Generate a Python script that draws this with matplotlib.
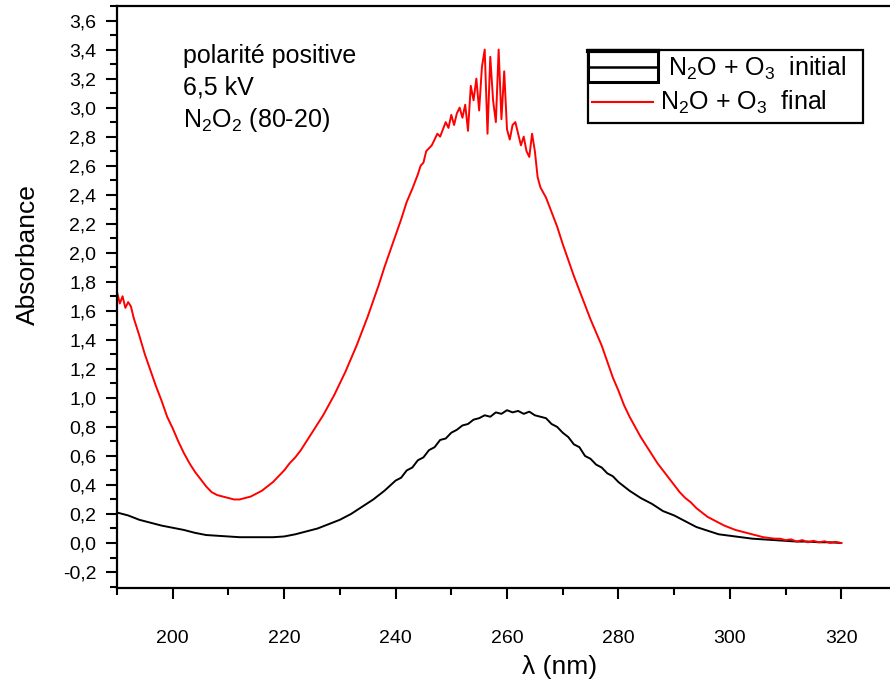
import matplotlib
matplotlib.use("Agg")
import matplotlib.pyplot as plt
from matplotlib.ticker import MultipleLocator, FuncFormatter
from matplotlib.patches import Rectangle
from matplotlib.lines import Line2D

plt.rcParams['font.family'] = ['Liberation Sans', 'DejaVu Sans']
plt.rcParams['mathtext.fontset'] = 'custom'
plt.rcParams['mathtext.rm'] = 'Liberation Sans'
plt.rcParams['mathtext.it'] = 'Liberation Sans'
plt.rcParams['mathtext.default'] = 'regular'

# ---------------- data ----------------
wl_final = [190, 190.5, 191, 191.5, 192, 192.5, 193, 194, 195, 196, 197, 198, 199,
            200, 201, 202, 203, 204, 205, 206, 207, 208, 209, 210, 211, 212, 213, 214,
            215, 216, 217, 218, 219, 220, 221, 222, 223, 224, 225, 226, 227, 228, 229,
            230, 231, 232, 233, 234, 235, 236, 237, 238, 239, 240, 241, 242, 243, 244,
            244.5, 245, 245.5, 246, 246.5, 247, 247.5, 248, 248.5, 249, 249.5, 250,
            250.5, 251, 251.5, 252, 252.5, 253, 253.5, 254, 254.5, 255, 255.5, 256,
            256.5, 257, 257.5, 258, 258.5, 259, 259.5, 260, 260.5, 261, 261.5, 262,
            262.5, 263, 263.5, 264, 264.5, 265, 265.5, 266, 267, 268, 269, 270, 271,
            272, 273, 274, 275, 276, 277, 278, 279, 280, 281, 282, 283, 284, 285, 286,
            287, 288, 289, 290, 291, 292, 293, 294, 295, 296, 297, 298, 299, 300, 301,
            302, 303, 304, 305, 306, 307, 308, 309, 310, 311, 312, 313, 314, 315, 316,
            317, 318, 319, 320]
abs_final = [1.73, 1.65, 1.70, 1.62, 1.66, 1.63, 1.55, 1.43, 1.30, 1.19, 1.08, 0.98, 0.87,
             0.79, 0.70, 0.62, 0.55, 0.49, 0.44, 0.39, 0.35, 0.33, 0.32, 0.31, 0.30, 0.30,
             0.31, 0.32, 0.34, 0.36, 0.39, 0.42, 0.46, 0.50, 0.55, 0.59, 0.64, 0.70, 0.76,
             0.82, 0.88, 0.95, 1.02, 1.10, 1.18, 1.27, 1.36, 1.46, 1.56, 1.67, 1.78, 1.90,
             2.01, 2.12, 2.23, 2.35, 2.44, 2.54, 2.60, 2.62, 2.70, 2.72, 2.74, 2.78, 2.82,
             2.80, 2.85, 2.90, 2.86, 2.95, 2.88, 2.96, 3.00, 2.93, 3.02, 2.84, 3.15, 3.05,
             3.20, 2.98, 3.28, 3.40, 2.82, 3.35, 3.05, 2.90, 3.40, 2.92, 3.25, 2.85, 2.78,
             2.88, 2.90, 2.82, 2.74, 2.80, 2.70, 2.66, 2.82, 2.70, 2.52, 2.45, 2.38, 2.28,
             2.18, 2.06, 1.95, 1.84, 1.74, 1.64, 1.54, 1.45, 1.36, 1.25, 1.14, 1.05, 0.95,
             0.87, 0.80, 0.73, 0.67, 0.61, 0.55, 0.50, 0.45, 0.40, 0.35, 0.31, 0.28, 0.24,
             0.21, 0.18, 0.16, 0.14, 0.12, 0.105, 0.09, 0.08, 0.07, 0.06, 0.05, 0.04, 0.035,
             0.03, 0.03, 0.02, 0.025, 0.01, 0.02, 0.005, 0.015, 0.005, 0.012, 0.0, 0.008,
             0.0]

wl_initial = [190, 192, 194, 196, 198, 200, 202, 204, 206, 208, 210, 212, 214, 216, 218,
              220, 222, 224, 226, 228, 230, 232, 234, 236, 238, 240, 241, 242, 243, 244,
              245, 246, 247, 248, 249, 250, 251, 252, 253, 254, 255, 256, 257, 258, 259,
              260, 261, 262, 263, 264, 265, 266, 267, 268, 269, 270, 271, 272, 273, 274,
              275, 276, 277, 278, 279, 280, 282, 284, 286, 288, 290, 292, 294, 296, 298,
              300, 302, 304, 306, 308, 310, 312, 314, 316, 318, 320]
abs_initial = [0.21, 0.19, 0.16, 0.14, 0.12, 0.105, 0.09, 0.07, 0.055, 0.05, 0.045, 0.04,
               0.04, 0.04, 0.04, 0.045, 0.06, 0.08, 0.10, 0.13, 0.16, 0.20, 0.25, 0.30,
               0.36, 0.43, 0.45, 0.50, 0.52, 0.57, 0.59, 0.64, 0.66, 0.71, 0.72, 0.76,
               0.78, 0.81, 0.82, 0.85, 0.86, 0.88, 0.87, 0.90, 0.89, 0.915, 0.90, 0.91,
               0.89, 0.905, 0.88, 0.87, 0.86, 0.82, 0.80, 0.76, 0.73, 0.68, 0.66, 0.60,
               0.58, 0.54, 0.52, 0.48, 0.46, 0.42, 0.36, 0.31, 0.27, 0.22, 0.19, 0.15,
               0.11, 0.085, 0.06, 0.05, 0.04, 0.03, 0.025, 0.02, 0.015, 0.01, 0.01, 0.005,
               0.005, 0.0]

x_ticks = [200, 220, 240, 260, 280, 300, 320]
annotation_lines = ["polarité positive", "6,5 kV", "N$_2$O$_2$ (80-20)"]
legend_labels = ["N$_2$O + O$_3$  initial", "N$_2$O + O$_3$  final"]

# ---------------- figure ----------------
W, H = 890, 684
fig = plt.figure(figsize=(W / 100, H / 100), dpi=100)

def fx(px):
    return px / W

def fy(py):
    return 1 - py / H

ax = fig.add_axes([fx(117), fy(588), (897 - 117) / W, (588 - 6) / H])
ax.plot(wl_initial, abs_initial, color='black', lw=1.4)
ax.plot(wl_final, abs_final, color='#ff0000', lw=1.4)

ax.set_xlim(190, 330)
ax.set_ylim(-0.31, 3.70)
ax.set_xticks(x_ticks)
ax.xaxis.set_minor_locator(MultipleLocator(10))
ax.yaxis.set_major_locator(MultipleLocator(0.2))
ax.yaxis.set_minor_locator(MultipleLocator(0.1))

def comma_fmt(v, pos):
    s = f"{v:.1f}"
    if s == "-0.0":
        s = "0.0"
    return s.replace('.', ',')

ax.yaxis.set_major_formatter(FuncFormatter(comma_fmt))
ax.spines['right'].set_visible(False)
for s in ['left', 'bottom', 'top']:
    ax.spines[s].set_linewidth(1.6)
ax.tick_params(axis='both', which='major', direction='out', length=8, width=1.5,
               labelsize=14)
ax.tick_params(axis='both', which='minor', direction='out', length=5, width=1.5)
ax.tick_params(axis='x', which='major', pad=22)
ax.tick_params(axis='y', which='major', pad=7)
ax.tick_params(top=False, right=False, which='both')

fig.text(fx(28), fy(255), "Absorbance", rotation=90, fontsize=19,
         ha='center', va='center')
fig.text(fx(560), fy(667), "λ (nm)", fontsize=19, ha='center', va='center')

# annotation block
baselines = [63, 95, 127]
for line, b in zip(annotation_lines, baselines):
    fig.text(fx(183), fy(b), line, fontsize=18, ha='left', va='baseline')

# legend (drawn manually to mimic reference)
fig.add_artist(Rectangle((fx(588), fy(123)), fx(863) - fx(588), fy(50) - fy(123),
                         transform=fig.transFigure, fill=False, lw=1.6, ec='black'))
fig.add_artist(Rectangle((fx(588), fy(82)), fx(658) - fx(588), fy(50) - fy(82),
                         transform=fig.transFigure, fill=False, lw=2.2, ec='black'))
fig.add_artist(Line2D([fx(588), fx(658)], [fy(51), fy(51)], transform=fig.transFigure,
                      color='black', lw=3))
fig.add_artist(Line2D([fx(588), fx(658)], [fy(67), fy(67)], transform=fig.transFigure,
                      color='black', lw=1.8))
fig.add_artist(Line2D([fx(592), fx(653)], [fy(102), fy(102)], transform=fig.transFigure,
                      color='#ff0000', lw=1.5))
fig.text(fx(668), fy(76), legend_labels[0], fontsize=18, ha='left', va='baseline')
fig.text(fx(660), fy(110), legend_labels[1], fontsize=18, ha='left', va='baseline')

fig.savefig("out.png", dpi=100)
